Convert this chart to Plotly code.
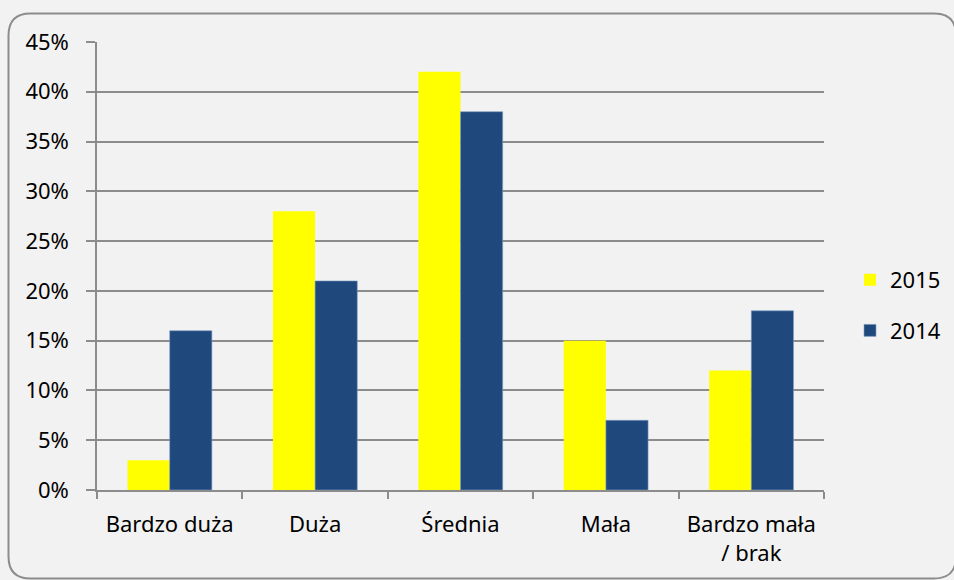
import plotly.graph_objects as go

categories = ["Bardzo duża", "Duża", "Średnia", "Mała", "Bardzo mała<br>/ brak"]
series_names = ["2015", "2014"]
values_2015 = [3, 28, 42, 15, 12]
values_2014 = [16, 21, 38, 7, 18]
y_ticks = [0, 5, 10, 15, 20, 25, 30, 35, 40, 45]
y_tick_labels = [f"{v}%" for v in y_ticks]

W, H = 954, 580
L, R, T, B = 97, 824, 42, 490

def px(x):
    return (x - L) / (R - L)

def py(y):
    return (B - y) / (B - T)

fig = go.Figure()
fig.add_trace(go.Bar(x=categories, y=values_2015, name=series_names[0],
                     marker=dict(color="#ffff00", line=dict(width=0)),
                     legendgroup="a"))
fig.add_trace(go.Bar(x=categories, y=values_2014, name=series_names[1],
                     marker=dict(color="#1f497d", line=dict(width=0.6, color="#7f9cc4")),
                     legendgroup="b"))

# rounded border
x0, x1, y0, y1, r = 8.5, 956, 13.5, 578.5, 22
path = (f"M {px(x0 + r)},{py(y0)} L {px(x1 - r)},{py(y0)} "
        f"Q {px(x1)},{py(y0)} {px(x1)},{py(y0 + r)} "
        f"L {px(x1)},{py(y1 - r)} Q {px(x1)},{py(y1)} {px(x1 - r)},{py(y1)} "
        f"L {px(x0 + r)},{py(y1)} Q {px(x0)},{py(y1)} {px(x0)},{py(y1 - r)} "
        f"L {px(x0)},{py(y0 + r)} Q {px(x0)},{py(y0)} {px(x0 + r)},{py(y0)} Z")

font = dict(family="Noto Sans, Open Sans, sans-serif", size=22, color="#000000")

fig.update_layout(
    width=W, height=H,
    margin=dict(l=L, r=W - R, t=T, b=H - B, autoexpand=False),
    paper_bgcolor="#f2f2f2",
    plot_bgcolor="#f2f2f2",
    font=font,
    barmode="group",
    bargap=0.42,
    bargroupgap=0,
    showlegend=True,
    legend=dict(x=px(850), y=py(259), xanchor="left", yanchor="top",
                bgcolor="rgba(0,0,0,0)", font=font, tracegroupgap=19,
                itemwidth=30),
    shapes=[dict(type="path", xref="paper", yref="paper", path=path,
                 line=dict(color="#8c8c8c", width=2), layer="below")],
    xaxis=dict(
        showgrid=False, showline=True, linecolor="#8c8c8c", linewidth=1.5,
        ticks="outside", tickson="boundaries", ticklen=7, tickcolor="#8c8c8c",
        tickwidth=1.5, tickfont=font, fixedrange=True, ticklabelstandoff=14,
    ),
    yaxis=dict(
        range=[0, 45], tickvals=y_ticks, ticktext=y_tick_labels,
        showgrid=True, gridcolor="#8c8c8c", gridwidth=1.5,
        showline=True, linecolor="#8c8c8c", linewidth=1.5,
        ticks="outside", ticklen=9, tickcolor="#8c8c8c", tickwidth=1.5,
        tickfont=font, zeroline=False, ticklabelstandoff=13,
    ),
)

fig.write_html("out.html", config={"displayModeBar": False},
               post_script="document.body.style.margin='0';document.body.style.overflow='hidden';")
